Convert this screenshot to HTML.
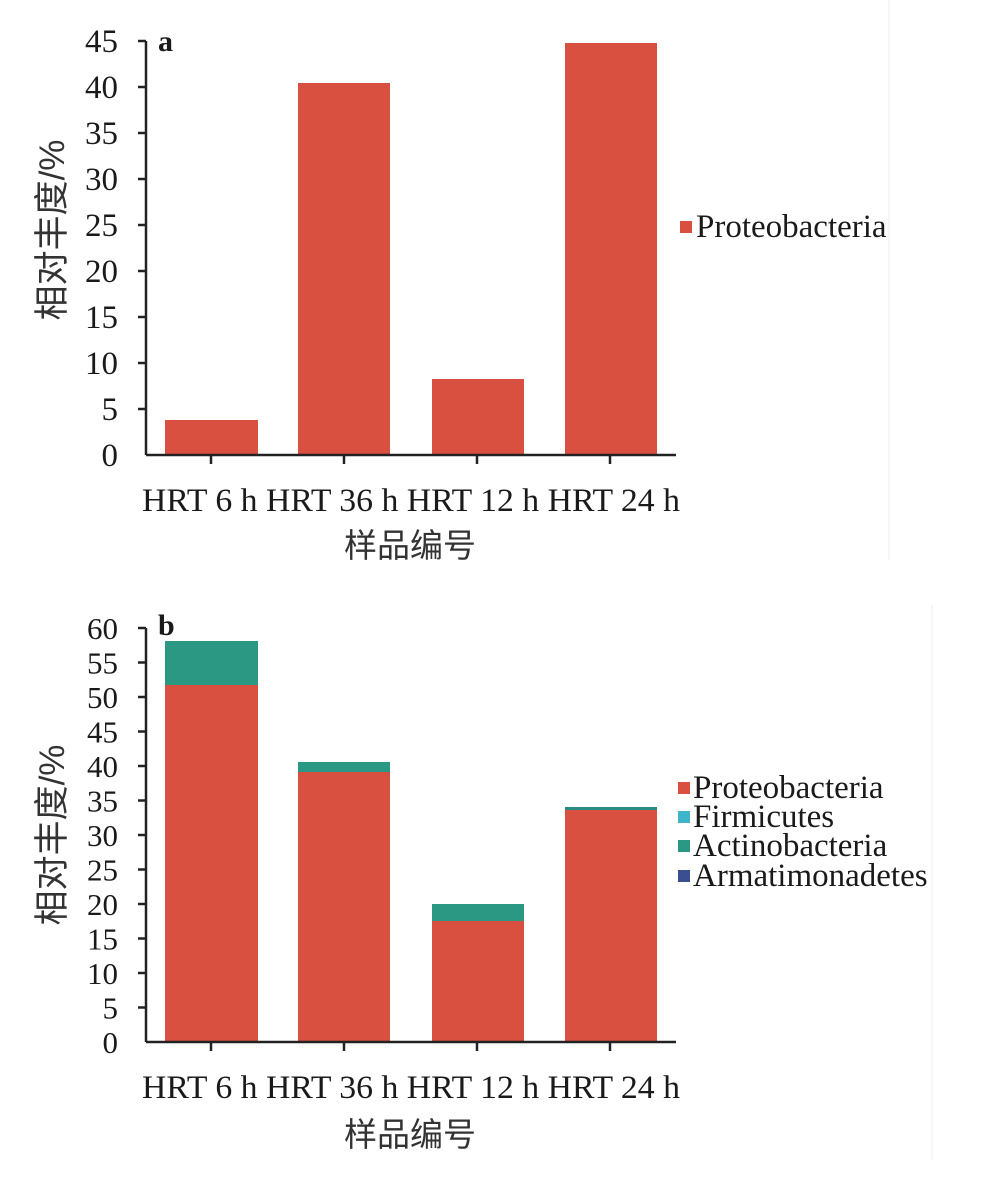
<!DOCTYPE html>
<html><head><meta charset="utf-8"><style>
html,body{margin:0;padding:0;background:#fff;}
text{font-family:"Liberation Serif","Noto Serif CJK SC",serif;fill:#1a1a1a;}
.cj{font-family:"Liberation Sans","Noto Sans CJK SC",sans-serif;fill:#333;}
</style></head><body>
<svg width="997" height="1174" viewBox="0 0 997 1174" xmlns="http://www.w3.org/2000/svg">
<rect width="997" height="1174" fill="#fff"/>
<line x1="889" y1="0" x2="889" y2="560" stroke="#eee" stroke-width="1"/>
<line x1="932" y1="605" x2="932" y2="1160" stroke="#eee" stroke-width="1"/>
<!-- Chart a -->
<g>
<rect x="165" y="420" width="93" height="35" fill="#d95040"/>
<rect x="298" y="83" width="92" height="372" fill="#d95040"/>
<rect x="432" y="379" width="92" height="76" fill="#d95040"/>
<rect x="565" y="43" width="92" height="412" fill="#d95040"/>
<g stroke="#222" stroke-width="2.5">
<line x1="146" y1="41" x2="146" y2="455"/>
<line x1="146" y1="455" x2="676" y2="455"/>
<line x1="138" y1="41" x2="146" y2="41"/><line x1="138" y1="87" x2="146" y2="87"/>
<line x1="138" y1="133" x2="146" y2="133"/><line x1="138" y1="179" x2="146" y2="179"/>
<line x1="138" y1="225" x2="146" y2="225"/><line x1="138" y1="271" x2="146" y2="271"/>
<line x1="138" y1="317" x2="146" y2="317"/><line x1="138" y1="363" x2="146" y2="363"/>
<line x1="138" y1="409" x2="146" y2="409"/>
<line x1="211" y1="455" x2="211" y2="464"/><line x1="344" y1="455" x2="344" y2="464"/>
<line x1="477" y1="455" x2="477" y2="464"/><line x1="610" y1="455" x2="610" y2="464"/>
</g>
<g font-size="33" text-anchor="end">
<text x="118" y="52">45</text><text x="118" y="98">40</text><text x="118" y="144">35</text>
<text x="118" y="190">30</text><text x="118" y="236">25</text><text x="118" y="282">20</text>
<text x="118" y="328">15</text><text x="118" y="374">10</text><text x="118" y="420">5</text>
<text x="118" y="466">0</text>
</g>
<text x="158" y="51" font-size="30" font-weight="bold">a</text>
<text x="142" y="511" font-size="33" textLength="538" lengthAdjust="spacingAndGlyphs">HRT 6 h HRT 36 h HRT 12 h HRT 24 h</text>
<text class="cj" x="410" y="557" font-size="33" text-anchor="middle">样品编号</text>
<text class="cj" transform="translate(64,230) rotate(-90)" font-size="35" text-anchor="middle">相对丰度/%</text>
<rect x="680" y="221" width="12" height="12" fill="#d95040"/>
<text x="696" y="237" font-size="33">Proteobacteria</text>
</g>
<!-- Chart b -->
<g>
<rect x="165" y="641" width="93" height="44" fill="#2a9882"/>
<rect x="165" y="685" width="93" height="357" fill="#d95040"/>
<rect x="298" y="762" width="92" height="10" fill="#2a9882"/>
<rect x="298" y="772" width="92" height="270" fill="#d95040"/>
<rect x="432" y="904" width="92" height="17" fill="#2a9882"/>
<rect x="432" y="921" width="92" height="121" fill="#d95040"/>
<rect x="565" y="807" width="92" height="3" fill="#2a8a86"/>
<rect x="565" y="810" width="92" height="232" fill="#d95040"/>
<g stroke="#222" stroke-width="2.5">
<line x1="146" y1="628" x2="146" y2="1042"/>
<line x1="146" y1="1042" x2="676" y2="1042"/>
<line x1="138" y1="628" x2="146" y2="628"/><line x1="138" y1="662.5" x2="146" y2="662.5"/>
<line x1="138" y1="697" x2="146" y2="697"/><line x1="138" y1="731.5" x2="146" y2="731.5"/>
<line x1="138" y1="766" x2="146" y2="766"/><line x1="138" y1="800.5" x2="146" y2="800.5"/>
<line x1="138" y1="835" x2="146" y2="835"/><line x1="138" y1="869.5" x2="146" y2="869.5"/>
<line x1="138" y1="904" x2="146" y2="904"/><line x1="138" y1="938.5" x2="146" y2="938.5"/>
<line x1="138" y1="973" x2="146" y2="973"/><line x1="138" y1="1007.5" x2="146" y2="1007.5"/>
<line x1="211" y1="1042" x2="211" y2="1051"/><line x1="344" y1="1042" x2="344" y2="1051"/>
<line x1="477" y1="1042" x2="477" y2="1051"/><line x1="610" y1="1042" x2="610" y2="1051"/>
</g>
<g font-size="31" text-anchor="end">
<text x="118" y="639">60</text><text x="118" y="673.5">55</text><text x="118" y="708">50</text>
<text x="118" y="742.5">45</text><text x="118" y="777">40</text><text x="118" y="811.5">35</text>
<text x="118" y="846">30</text><text x="118" y="880.5">25</text><text x="118" y="915">20</text>
<text x="118" y="949.5">15</text><text x="118" y="984">10</text><text x="118" y="1018.5">5</text>
<text x="118" y="1053">0</text>
</g>
<text x="158" y="635" font-size="30" font-weight="bold">b</text>
<text x="142" y="1098" font-size="33" textLength="538" lengthAdjust="spacingAndGlyphs">HRT 6 h HRT 36 h HRT 12 h HRT 24 h</text>
<text class="cj" x="410" y="1146" font-size="33" text-anchor="middle">样品编号</text>
<text class="cj" transform="translate(64,835) rotate(-90)" font-size="35" text-anchor="middle">相对丰度/%</text>
<rect x="678" y="782" width="12" height="12" fill="#d95040"/>
<text x="693" y="798" font-size="33">Proteobacteria</text>
<rect x="678" y="811" width="12" height="12" fill="#3fb5cc"/>
<text x="693" y="827" font-size="33">Firmicutes</text>
<rect x="678" y="840" width="12" height="12" fill="#2a9882"/>
<text x="693" y="856" font-size="33">Actinobacteria</text>
<rect x="678" y="870" width="12" height="12" fill="#3a4f8f"/>
<text x="693" y="886" font-size="33">Armatimonadetes</text>
</g>
</svg>
</body></html>
